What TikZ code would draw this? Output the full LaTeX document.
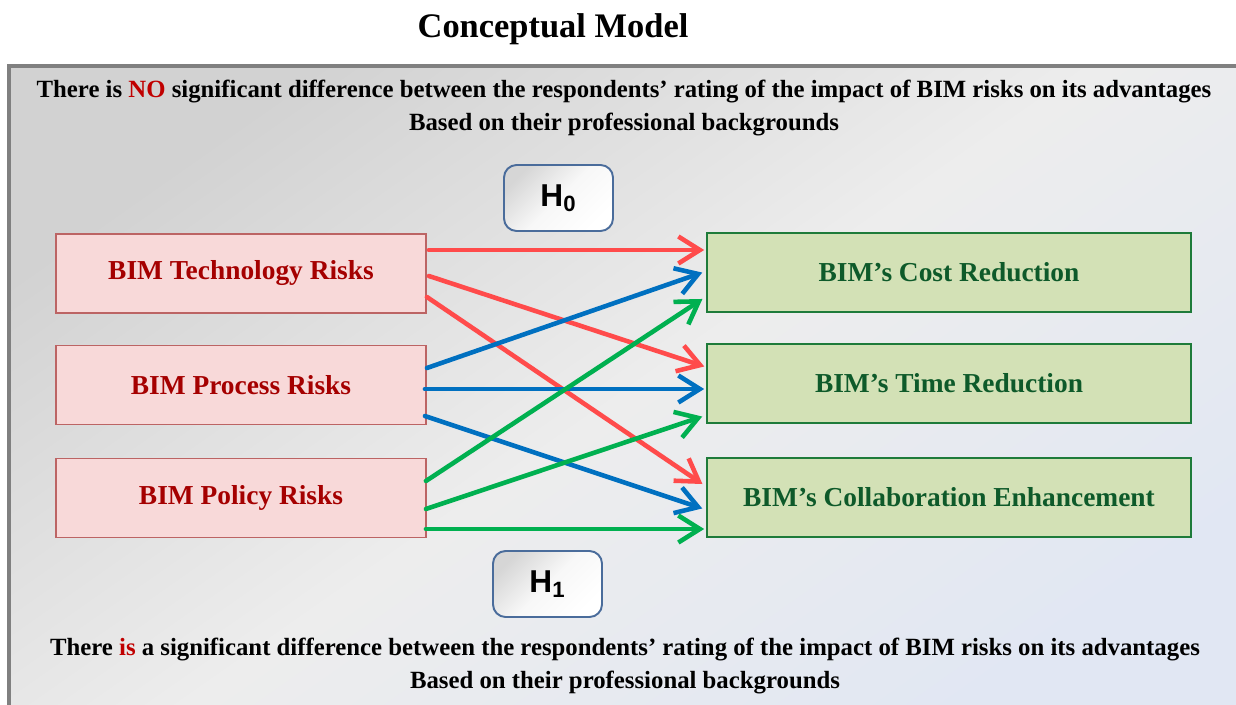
\documentclass[tikz,border=0pt]{standalone}
\usepackage{fontspec}
\setmainfont{Liberation Serif}
\newfontfamily\hfont{Liberation Sans}
\usetikzlibrary{arrows.meta,calc}
\definecolor{arrred}{HTML}{FF4B4B}
\definecolor{arrblue}{HTML}{0070C0}
\definecolor{arrgreen}{HTML}{00B050}
\definecolor{riskfill}{HTML}{F8D9D9}
\definecolor{riskedge}{HTML}{BC6464}
\definecolor{risktext}{HTML}{A50000}
\definecolor{gainfill}{HTML}{D3E1B6}
\definecolor{gainedge}{HTML}{1E7B3A}
\definecolor{gaintext}{HTML}{0E5A2A}
\definecolor{hypedge}{HTML}{4A6C9B}
\definecolor{framegray}{HTML}{808080}
\definecolor{frametop}{HTML}{D2D2D2}
\definecolor{framemid}{HTML}{EDEDED}
\definecolor{framebot}{HTML}{E1E7F3}
\definecolor{noteRed}{HTML}{C00000}
\tikzset{>={Straight Barb[length=4.3mm,width=5.4mm]}}
\tikzset{
  riskbox/.style={draw=riskedge,line width=1.1pt,fill=riskfill,text=risktext,
    minimum width=7.4cm,minimum height=1.58cm,
    font=\fontsize{15.6}{18}\selectfont\bfseries},
  gainbox/.style={draw=gainedge,line width=1.3pt,fill=gainfill,text=gaintext,
    minimum width=9.68cm,minimum height=1.58cm,
    font=\fontsize{15.6}{18}\selectfont\bfseries},
  hypbox/.style={draw=hypedge,line width=1.1pt,rounded corners=0.25cm,
    top color=black!16,bottom color=white,middle color=black!3,shading angle=45,
    minimum width=2.18cm,minimum height=1.32cm,
    font=\hfont\fontsize{18}{20}\selectfont\bfseries},
  note/.style={align=center,font=\fontsize{14.1}{18.7}\selectfont\bfseries},
  link/.style={line width=2.6pt,->,line cap=round,shorten >=1pt}
}

\begin{document}
\begin{tikzpicture}[x=0.02cm,y=0.02cm]
  \useasboundingbox (0,0) rectangle (1236,704);
  \clip (0,0) rectangle (1236,704);

  % Title
  \node[font=\fontsize{19.6}{24}\selectfont\bfseries] (title) at (553,675) {Conceptual Model};

  % Frame
  \draw[framegray,line width=1.8pt,left color=frametop,right color=framebot,
    middle color=framemid,shading angle=35] (9,638) rectangle (1250,-20);

  % Hypotheses texts
  \node[note] (nulltext) at (624,596)
    {There is \textcolor{noteRed}{NO} significant difference between the respondents’ rating of the impact of BIM risks on its advantages\\
     Based on their professional backgrounds};
  \node[note] (alttext) at (625,38)
    {There \textcolor{noteRed}{is} a significant difference between the respondents’ rating of the impact of BIM risks on its advantages\\
     Based on their professional backgrounds};
  \node[hypbox] (hnull) at (558.5,506) {H\textsubscript{0}};
  \node[hypbox] (halt) at (547.5,120) {H\textsubscript{1}};

  % Risks
  \node[riskbox] (tech) at (241,430.5) {BIM Technology Risks};
  \node[riskbox] (proc) at (241,319) {BIM Process Risks};
  \node[riskbox] (pol) at (241,206) {BIM Policy Risks};

  % Advantages
  \node[gainbox] (cost) at (949,431.5) {BIM’s Cost Reduction};
  \node[gainbox] (time) at (949,320.5) {BIM’s Time Reduction};
  \node[gainbox] (collab) at (949,206.5) {BIM’s Collaboration Enhancement};

  % Technology links
  \draw[link,arrred] ($(tech.east)+(2,23.5)$) -- ($(cost.west)+(0,22.5)$);
  \draw[link,arrred] ($(tech.east)+(2,-2.5)$) -- ($(time.west)+(0,16.5)$);
  \draw[link,arrred] ($(tech.east)+(0,-23.5)$) -- ($(collab.west)+(-2,12.5)$);
  % Process links
  \draw[link,arrblue] ($(proc.east)+(0,17)$) -- ($(cost.west)+(-2,0.5)$);
  \draw[link,arrblue] ($(proc.east)+(-2,-4)$) -- ($(time.west)+(0,-5.5)$);
  \draw[link,arrblue] ($(proc.east)+(-2,-31)$) -- ($(collab.west)+(-2,-11.5)$);
  % Policy links
  \draw[link,arrgreen] ($(pol.east)+(-1,17)$) -- ($(cost.west)+(-2,-25.5)$);
  \draw[link,arrgreen] ($(pol.east)+(-1,-11)$) -- ($(time.west)+(-2,-32.5)$);
  \draw[link,arrgreen] ($(pol.east)+(-1,-31)$) -- ($(collab.west)+(0,-31.5)$);
\end{tikzpicture}
\end{document}
